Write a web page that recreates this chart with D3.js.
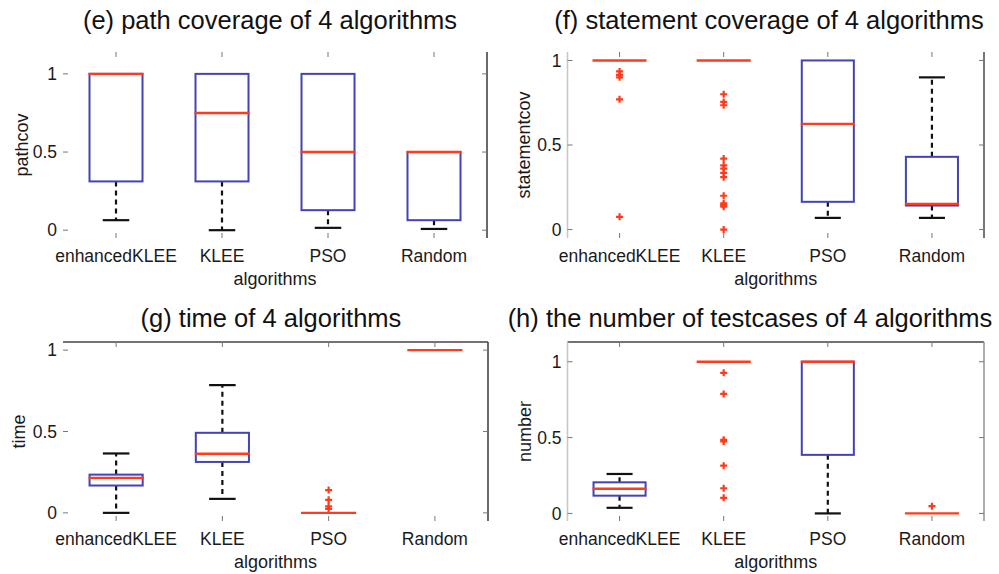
<!DOCTYPE html>
<html>
<head>
<meta charset="utf-8">
<script src="https://cdn.jsdelivr.net/npm/d3@7.9.0/dist/d3.min.js"></script>
<style>
  html, body { margin: 0; padding: 0; background: #fff; }
  svg { display: block; font-family: "Liberation Sans", Arial, sans-serif; }
</style>
</head>
<body>
<svg id="chart" width="999" height="574"></svg>
<script>
/* --- Data --- */
const categories = ['enhancedKLEE', 'KLEE', 'PSO', 'Random'];
const yTicks = [0, 0.5, 1];
const yTickLabels = ['0', '0.5', '1'];

// per algorithm: [lower whisker, q1, median, q3, upper whisker]
const pathStats = [[0.064, 0.312, 1, 1, 1], [0, 0.312, 0.75, 1, 1], [0.015, 0.128, 0.5, 1, 1], [0.008, 0.064, 0.5, 0.5, 0.5]];
const pathOutliers = [[], [], [], []];

const stmtStats = [[1, 1, 1, 1, 1], [1, 1, 1, 1, 1], [0.069, 0.164, 0.625, 1, 1], [0.069, 0.142, 0.152, 0.43, 0.90]];
const stmtOutliers = [
  [0.935, 0.915, 0.90, 0.77, 0.075],
  [0.80, 0.755, 0.735, 0.42, 0.38, 0.36, 0.335, 0.31, 0.20, 0.155, 0.145, 0.135, 0],
  [], []
];

const timeStats = [[0, 0.168, 0.215, 0.235, 0.365], [0.086, 0.313, 0.363, 0.492, 0.785], [0, 0, 0, 0, 0], [1, 1, 1, 1, 1]];
const timeOutliers = [[], [], [0.14, 0.08, 0.04, 0.025], []];

const numStats = [[0.037, 0.117, 0.163, 0.205, 0.26], [1, 1, 1, 1, 1], [0, 0.386, 1, 1, 1], [0, 0, 0, 0, 0]];
const numOutliers = [[], [0.927, 0.788, 0.485, 0.474, 0.315, 0.166, 0.103], [], [0.048]];

/* --- Panel layout --- */
const panels = [
  { title: '(e) path coverage of 4 algorithms', ylabel: 'pathcov', stats: pathStats, outliers: pathOutliers,
    x0: 63, x1: 487, y0: 52, y1: 238, ylim: [-0.05, 1.14], titleX: 270, titleY: 29, ylabX: 22,
    edges: { right: '#444' } },
  { title: '(f) statement coverage of 4 algorithms', ylabel: 'statementcov', stats: stmtStats, outliers: stmtOutliers,
    x0: 567.5, x1: 984, y0: 52, y1: 238, ylim: [-0.05, 1.05], titleX: 769, titleY: 29, ylabX: 524,
    edges: { left: '#c8c8c8', right: '#555' } },
  { title: '(g) time of 4 algorithms', ylabel: 'time', stats: timeStats, outliers: timeOutliers,
    x0: 63, x1: 488, y0: 342, y1: 521, ylim: [-0.05, 1.05], titleX: 271, titleY: 327, ylabX: 19,
    edges: { top: '#444', right: '#444' } },
  { title: '(h) the number of testcases of 4 algorithms', ylabel: 'number', stats: numStats, outliers: numOutliers,
    x0: 567.5, x1: 984, y0: 342, y1: 521, ylim: [-0.05, 1.13], titleX: 750, titleY: 327, ylabX: 525,
    edges: { top: '#444', left: '#c8c8c8', right: '#999' } }
];

const BLUE = '#4343b8';
const RED = '#ff3b1e';
const svg = d3.select('#chart');

panels.forEach(drawPanel);

function drawPanel(p) {
  const g = svg.append('g');
  const x = d3.scaleLinear().domain([0.5, 4.5]).range([p.x0, p.x1]);
  const y = d3.scaleLinear().domain(p.ylim).range([p.y1, p.y0]);
  const halfBox = (x(1.25) - x(1));
  const halfCap = halfBox / 2;

  // axis edges (only the ones that survive in the scan)
  const edgeLines = {
    top: [p.x0, p.y0, p.x1, p.y0], bottom: [p.x0, p.y1, p.x1, p.y1],
    left: [p.x0, p.y0, p.x0, p.y1], right: [p.x1, p.y0, p.x1, p.y1]
  };
  Object.entries(p.edges).forEach(([k, col]) => {
    const [ax, ay, bx, by] = edgeLines[k];
    g.append('line').attr('x1', ax).attr('y1', ay).attr('x2', bx).attr('y2', by)
      .attr('stroke', col).attr('stroke-width', 1.6);
  });

  // inward tick marks, MATLAB style
  const tickLen = 5;
  const tickCol = '#777';
  yTicks.forEach(t => {
    g.append('line').attr('x1', p.x0).attr('x2', p.x0 + tickLen).attr('y1', y(t)).attr('y2', y(t))
      .attr('stroke', tickCol).attr('stroke-width', 1);
    g.append('line').attr('x1', p.x1).attr('x2', p.x1 - tickLen).attr('y1', y(t)).attr('y2', y(t))
      .attr('stroke', tickCol).attr('stroke-width', 1);
  });
  categories.forEach((c, i) => {
    g.append('line').attr('x1', x(i + 1)).attr('x2', x(i + 1)).attr('y1', p.y0).attr('y2', p.y0 + tickLen)
      .attr('stroke', tickCol).attr('stroke-width', 1);
    g.append('line').attr('x1', x(i + 1)).attr('x2', x(i + 1)).attr('y1', p.y1).attr('y2', p.y1 - tickLen)
      .attr('stroke', tickCol).attr('stroke-width', 1);
  });

  // y tick labels
  g.selectAll('text.ytick').data(yTicks).enter().append('text')
    .attr('class', 'ytick')
    .attr('x', p.x0 - 6).attr('y', d => y(d)).attr('dy', '0.35em')
    .attr('text-anchor', 'end').attr('font-size', 17.5).attr('fill', '#1a1a1a')
    .text((d, i) => yTickLabels[i]);

  // x tick labels
  g.selectAll('text.xtick').data(categories).enter().append('text')
    .attr('class', 'xtick')
    .attr('x', (d, i) => x(i + 1)).attr('y', p.y1 + 24)
    .attr('text-anchor', 'middle').attr('font-size', 17.5).attr('fill', '#1a1a1a')
    .text(d => d);

  // axis labels + title
  g.append('text').attr('x', (p.x0 + p.x1) / 2).attr('y', p.y1 + 47)
    .attr('text-anchor', 'middle').attr('font-size', 18).attr('fill', '#1a1a1a').text('algorithms');
  g.append('text')
    .attr('transform', `translate(${p.ylabX},${(p.y0 + p.y1) / 2}) rotate(-90)`)
    .attr('dy', '0.35em').attr('text-anchor', 'middle').attr('font-size', 18).attr('fill', '#1a1a1a')
    .text(p.ylabel);
  g.append('text').attr('x', p.titleX).attr('y', p.titleY)
    .attr('text-anchor', 'middle').attr('font-size', 25.5).attr('fill', '#111')
    .text(p.title);

  // boxes
  p.stats.forEach(([lo, q1, med, q3, hi], i) => {
    const cx = x(i + 1);
    // dashed whiskers + caps (hidden when they sit on the box edge)
    [[q3, hi], [q1, lo]].forEach(([a, b]) => {
      if (a === b) return;
      g.append('line').attr('x1', cx).attr('x2', cx).attr('y1', y(a)).attr('y2', y(b))
        .attr('stroke', '#111').attr('stroke-width', 2.2).attr('stroke-dasharray', '5,4');
      g.append('line').attr('x1', cx - halfCap).attr('x2', cx + halfCap).attr('y1', y(b)).attr('y2', y(b))
        .attr('stroke', '#111').attr('stroke-width', 2.2);
    });
    // box
    if (q3 !== q1) {
      g.append('rect').attr('x', cx - halfBox).attr('width', 2 * halfBox)
        .attr('y', y(q3)).attr('height', y(q1) - y(q3))
        .attr('fill', 'none').attr('stroke', BLUE).attr('stroke-width', 2);
    }
    // median
    g.append('line').attr('x1', cx - halfBox - 1).attr('x2', cx + halfBox + 1).attr('y1', y(med)).attr('y2', y(med))
      .attr('stroke', RED).attr('stroke-width', 2.4);
  });

  // outliers as red plus signs
  p.outliers.forEach((list, i) => {
    g.selectAll(null).data(list).enter().append('path')
      .attr('transform', d => `translate(${x(i + 1)},${y(d)})`)
      .attr('d', 'M-3.5,0H3.5M0,-3.5V3.5')
      .attr('stroke', RED).attr('stroke-width', 2.2).attr('fill', 'none');
  });
}
</script>
</body>
</html>
